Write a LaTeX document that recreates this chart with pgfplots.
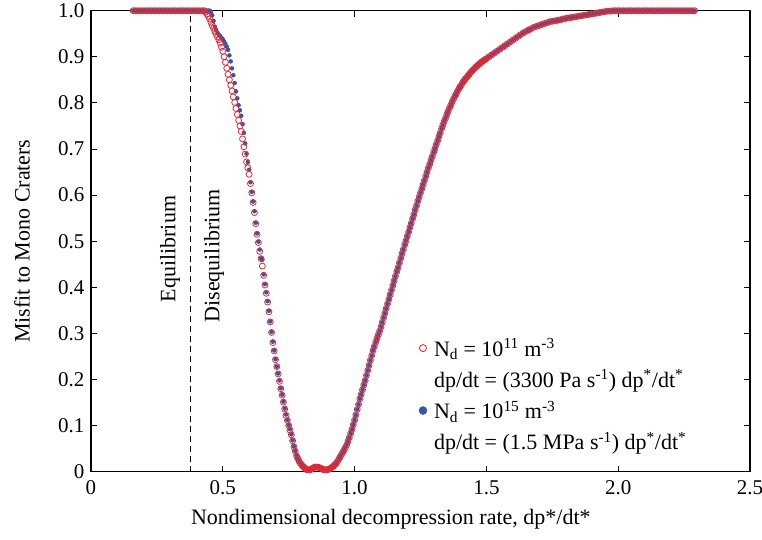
\documentclass[border=0pt]{standalone}
\usepackage{fontspec}
\setmainfont{Liberation Serif}
\usepackage{pgfplots}
\usepackage{pgfplotstable}
\pgfplotsset{compat=1.18}

\definecolor{misfitred}{RGB}{232,40,46}
\definecolor{misfitblue}{RGB}{55,84,165}

% x = dp*/dt*, r = misfit for N_d = 1e11 m^-3, b = misfit for N_d = 1e15 m^-3
\pgfplotstableread{
x r b
0.16 1.000 1.000
0.17 1.000 1.000
0.18 1.000 1.000
0.19 1.000 1.000
0.20 1.000 1.000
0.21 1.000 1.000
0.22 1.000 1.000
0.23 1.000 1.000
0.24 1.000 1.000
0.25 1.000 1.000
0.26 1.000 1.000
0.27 1.000 1.000
0.28 1.000 1.000
0.29 1.000 1.000
0.30 1.000 1.000
0.31 1.000 1.000
0.32 1.000 1.000
0.33 1.000 1.000
0.34 1.000 1.000
0.35 1.000 1.000
0.36 1.000 1.000
0.37 1.000 1.000
0.38 1.000 1.000
0.39 1.000 1.000
0.40 1.000 1.000
0.41 1.000 1.000
0.42 1.000 1.000
0.430 1.000 1.000
0.435 0.997 1.000
0.440 0.993 1.000
0.445 0.988 1.000
0.450 0.982 1.000
0.455 0.975 0.998
0.460 0.968 0.990
0.465 0.962 0.978
0.470 0.955 0.965
0.475 0.949 0.958
0.480 0.943 0.952
0.485 0.937 0.948
0.490 0.930 0.945
0.495 0.921 0.941
0.500 0.912 0.938
0.505 0.900 0.933
0.510 0.888 0.928
0.515 0.875 0.922
0.520 0.862 0.915
0.525 0.850 0.903
0.530 0.838 0.890
0.535 0.826 0.875
0.540 0.813 0.860
0.545 0.801 0.843
0.550 0.788 0.825
0.555 0.775 0.810
0.560 0.762 0.795
0.565 0.750 0.784
0.570 0.738 0.772
0.575 0.722 0.754
0.580 0.705 0.735
0.585 0.689 0.712
0.590 0.672 0.690
0.595 0.659 0.672
0.600 0.645 0.655
0.605 0.625 0.628
0.610 0.605 0.607
0.615 0.584 0.586
0.620 0.562 0.565
0.625 0.538 0.540
0.630 0.515 0.517
0.635 0.497 0.499
0.640 0.478 0.482
0.645 0.462 0.463
0.650 0.446 0.460
0.655 0.426 0.428
0.660 0.405 0.407
0.665 0.387 0.389
0.670 0.368 0.370
0.675 0.347 0.349
0.680 0.325 0.326
0.685 0.302 0.303
0.690 0.280 0.282
0.695 0.262 0.263
0.700 0.243 0.244
0.705 0.228 0.228
0.710 0.212 0.213
0.715 0.196 0.198
0.720 0.180 0.181
0.725 0.166 0.167
0.730 0.151 0.152
0.735 0.136 0.137
0.740 0.122 0.124
0.745 0.111 0.112
0.750 0.100 0.101
0.755 0.090 0.092
0.760 0.080 0.081
0.765 0.067 0.068
0.770 0.054 0.055
0.775 0.044 0.045
0.780 0.034 0.035
0.785 0.028 0.028
0.790 0.022 0.022
0.795 0.018 0.018
0.800 0.014 0.014
0.805 0.011 0.011
0.810 0.008 0.008
0.815 0.006 0.006
0.820 0.004 0.004
0.825 0.004 0.004
0.830 0.004 0.004
0.835 0.005 0.005
0.840 0.007 0.007
0.845 0.009 0.009
0.850 0.010 0.010
0.855 0.010 0.010
0.860 0.010 0.010
0.865 0.009 0.009
0.870 0.008 0.008
0.875 0.006 0.006
0.880 0.005 0.005
0.885 0.004 0.004
0.890 0.004 0.004
0.895 0.004 0.004
0.900 0.005 0.005
0.905 0.006 0.006
0.910 0.008 0.008
0.915 0.010 0.010
0.920 0.012 0.012
0.925 0.015 0.015
0.930 0.018 0.018
0.935 0.022 0.022
0.940 0.027 0.027
0.945 0.032 0.032
0.950 0.037 0.037
0.955 0.042 0.042
0.960 0.047 0.047
0.965 0.052 0.053
0.970 0.058 0.059
0.975 0.066 0.066
0.980 0.074 0.074
0.985 0.083 0.083
0.990 0.092 0.092
0.995 0.102 0.102
1.000 0.112 0.112
1.005 0.123 0.123
1.010 0.135 0.135
1.015 0.146 0.146
1.020 0.158 0.158
1.025 0.168 0.168
1.030 0.178 0.178
1.035 0.188 0.188
1.040 0.198 0.198
1.045 0.209 0.209
1.050 0.220 0.220
1.055 0.231 0.231
1.060 0.242 0.242
1.065 0.252 0.252
1.070 0.263 0.263
1.075 0.272 0.272
1.080 0.281 0.281
1.085 0.289 0.289
1.090 0.297 0.297
1.095 0.305 0.305
1.100 0.314 0.314
1.105 0.324 0.324
1.110 0.334 0.334
1.115 0.344 0.344
1.120 0.354 0.354
1.125 0.364 0.364
1.130 0.374 0.374
1.135 0.384 0.384
1.140 0.394 0.394
1.145 0.404 0.404
1.150 0.414 0.414
1.155 0.424 0.424
1.160 0.434 0.434
1.165 0.443 0.443
1.170 0.453 0.453
1.175 0.463 0.463
1.180 0.473 0.473
1.185 0.482 0.482
1.190 0.492 0.492
1.195 0.501 0.501
1.200 0.511 0.511
1.205 0.520 0.520
1.210 0.530 0.530
1.215 0.539 0.539
1.220 0.549 0.549
1.225 0.558 0.558
1.230 0.568 0.568
1.235 0.577 0.577
1.240 0.587 0.587
1.245 0.596 0.596
1.250 0.605 0.605
1.255 0.614 0.614
1.260 0.623 0.623
1.265 0.632 0.632
1.270 0.641 0.641
1.275 0.650 0.650
1.280 0.659 0.659
1.285 0.667 0.667
1.290 0.676 0.676
1.295 0.684 0.684
1.300 0.693 0.693
1.305 0.701 0.701
1.310 0.710 0.710
1.315 0.718 0.718
1.320 0.727 0.727
1.325 0.735 0.735
1.330 0.744 0.744
1.335 0.752 0.752
1.340 0.760 0.760
1.345 0.767 0.767
1.350 0.775 0.775
1.355 0.782 0.782
1.360 0.789 0.789
1.365 0.795 0.795
1.370 0.802 0.802
1.375 0.808 0.808
1.380 0.814 0.814
1.385 0.819 0.819
1.390 0.825 0.825
1.395 0.830 0.830
1.400 0.835 0.835
1.405 0.839 0.839
1.410 0.844 0.844
1.415 0.848 0.848
1.420 0.852 0.852
1.425 0.855 0.855
1.430 0.859 0.859
1.435 0.862 0.862
1.440 0.866 0.866
1.445 0.869 0.869
1.450 0.872 0.872
1.455 0.875 0.875
1.460 0.878 0.878
1.465 0.880 0.880
1.470 0.883 0.883
1.475 0.885 0.885
1.480 0.888 0.888
1.485 0.890 0.890
1.490 0.892 0.892
1.495 0.894 0.894
1.500 0.896 0.896
1.51 0.900 0.900
1.52 0.904 0.904
1.53 0.908 0.908
1.54 0.912 0.912
1.55 0.916 0.916
1.56 0.920 0.920
1.57 0.924 0.924
1.58 0.928 0.928
1.59 0.932 0.932
1.60 0.936 0.936
1.61 0.940 0.940
1.62 0.944 0.944
1.63 0.948 0.948
1.64 0.952 0.952
1.65 0.955 0.955
1.66 0.958 0.958
1.67 0.961 0.961
1.68 0.964 0.964
1.69 0.966 0.966
1.70 0.968 0.968
1.71 0.970 0.970
1.72 0.972 0.972
1.73 0.974 0.974
1.74 0.976 0.976
1.75 0.977 0.977
1.76 0.978 0.978
1.77 0.979 0.979
1.78 0.980 0.980
1.79 0.982 0.982
1.80 0.983 0.983
1.81 0.984 0.984
1.82 0.985 0.985
1.83 0.986 0.986
1.84 0.987 0.987
1.85 0.988 0.988
1.86 0.989 0.989
1.87 0.990 0.990
1.88 0.991 0.991
1.89 0.992 0.992
1.90 0.993 0.993
1.91 0.994 0.994
1.92 0.995 0.995
1.93 0.996 0.996
1.94 0.997 0.997
1.95 0.998 0.998
1.96 0.999 0.999
1.97 0.999 0.999
1.98 1.000 1.000
1.99 1.000 1.000
2.00 1.000 1.000
2.01 1.000 1.000
2.02 1.000 1.000
2.03 1.000 1.000
2.04 1.000 1.000
2.05 1.000 1.000
2.06 1.000 1.000
2.07 1.000 1.000
2.08 1.000 1.000
2.09 1.000 1.000
2.10 1.000 1.000
2.11 1.000 1.000
2.12 1.000 1.000
2.13 1.000 1.000
2.14 1.000 1.000
2.15 1.000 1.000
2.16 1.000 1.000
2.17 1.000 1.000
2.18 1.000 1.000
2.19 1.000 1.000
2.20 1.000 1.000
2.21 1.000 1.000
2.22 1.000 1.000
2.23 1.000 1.000
2.24 1.000 1.000
2.25 1.000 1.000
2.26 1.000 1.000
2.27 1.000 1.000
2.28 1.000 1.000
2.29 1.000 1.000
}\misfit

\begin{document}
\begin{tikzpicture}
\begin{axis}[
  at={(0,0)}, anchor=origin,
  scale only axis, width=659pt, height=461pt,
  xmin=0, xmax=2.5, ymin=0, ymax=1,
  axis line style={line width=1.1pt},
  tick align=inside, tick pos=both,
  major tick length=6pt,
  tick style={line width=0.9pt, black},
  xtick={0,0.5,1,1.5,2,2.5},
  xticklabels={0,0.5,1.0,1.5,2.0,2.5},
  ytick={0,0.1,0.2,0.3,0.4,0.5,0.6,0.7,0.8,0.9,1},
  yticklabels={0,0.1,0.2,0.3,0.4,0.5,0.6,0.7,0.8,0.9,1.0},
  tick label style={font=\fontsize{21}{25}\selectfont},
  xticklabel style={yshift=-5pt},
  yticklabel style={xshift=-3pt},
  label style={font=\fontsize{22}{26}\selectfont},
  xlabel={Nondimensional decompression rate, dp*/dt*},
  ylabel={Misfit to Mono Craters},
  xlabel style={at={(axis description cs:0.455,-0.104)}, anchor=center},
  ylabel style={at={(axis description cs:-0.1047,0.5)}, anchor=center},
  legend style={at={(axis cs:1.215,0.298)}, anchor=north west, draw=none, fill=none,
    font=\fontsize{22}{26}\selectfont, row sep=8pt,
    /tikz/every odd column/.append style={column sep=5pt}},
  legend cell align=left,
]
% equilibrium / disequilibrium boundary
\addplot[black, line width=0.8pt, dash pattern=on 6pt off 4pt, forget plot]
  coordinates {(0.377,0) (0.377,1)};
\node[rotate=90, font=\fontsize{22}{26}\selectfont] at (axis cs:0.30,0.483) {Equilibrium};
\node[rotate=90, font=\fontsize{22}{26}\selectfont] at (axis cs:0.467,0.468) {Disequilibrium};

% high number density run, drawn beneath the open circles
\addplot[only marks, mark=*, mark size=2pt, color=misfitblue, forget plot]
  table[x=x, y=b] {\misfit};
% low number density run
\addplot[only marks, mark=o, mark size=3pt, line width=0.8pt, color=misfitred, forget plot]
  table[x=x, y=r] {\misfit};

\addlegendimage{only marks, mark=o, mark size=3.5pt, line width=0.9pt, color=misfitred}
\addlegendentry{N\textsubscript{d} = 10\textsuperscript{11} m\textsuperscript{-3}}
\addlegendimage{empty legend}
\addlegendentry{dp/dt = (3300 Pa s\textsuperscript{-1}) dp\textsuperscript{*}/dt\textsuperscript{*}}
\addlegendimage{only marks, mark=*, mark size=4pt, color=misfitblue}
\addlegendentry{N\textsubscript{d} = 10\textsuperscript{15} m\textsuperscript{-3}}
\addlegendimage{empty legend}
\addlegendentry{dp/dt = (1.5 MPa s\textsuperscript{-1}) dp\textsuperscript{*}/dt\textsuperscript{*}}
\end{axis}
\pgfresetboundingbox
\path[use as bounding box] (-91pt,-68.3pt) rectangle (671pt,471.7pt);
\end{tikzpicture}
\end{document}
